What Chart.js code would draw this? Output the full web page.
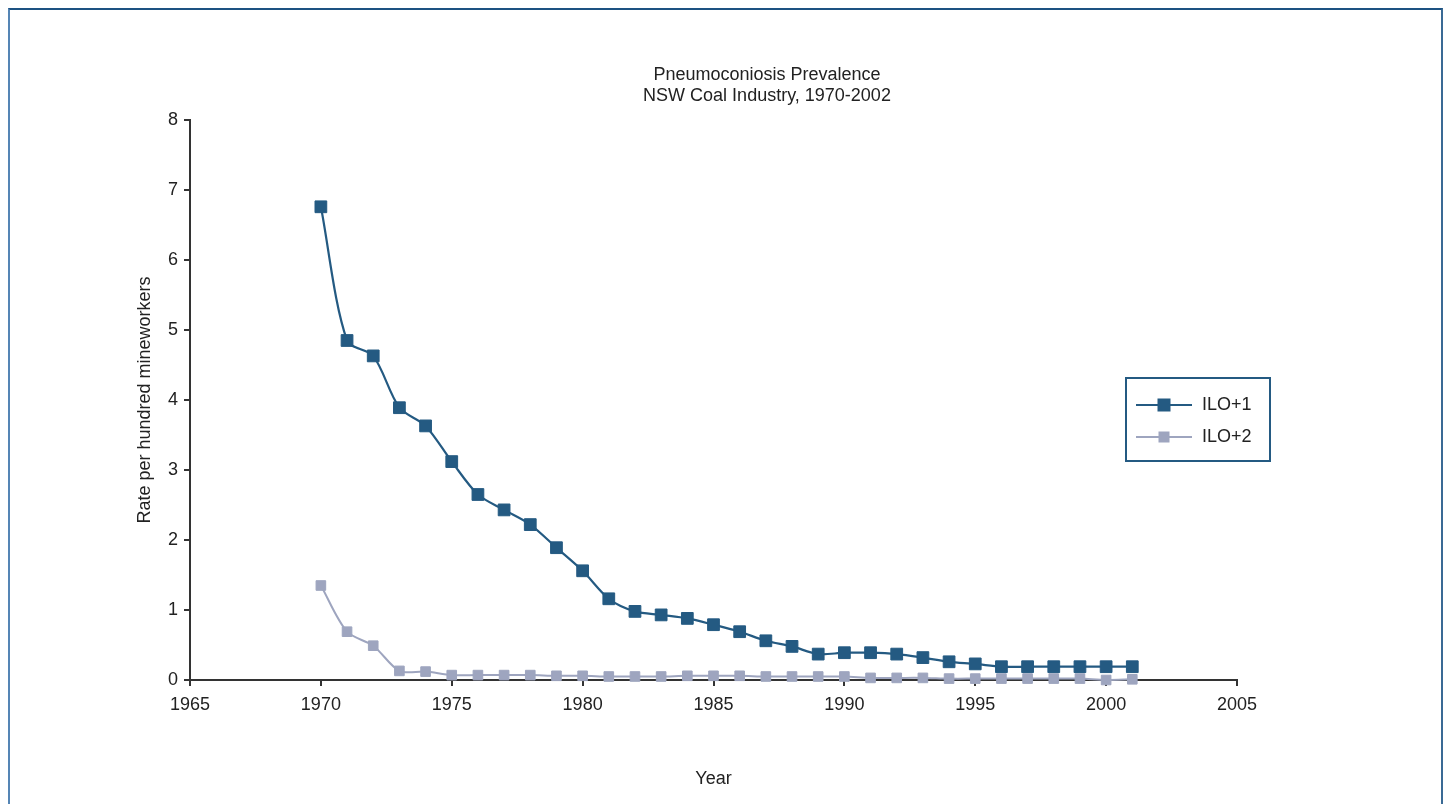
<!DOCTYPE html>
<html lang="en">
 <head>
  <meta charset="utf-8"/>
  <title>Pneumoconiosis Prevalence</title>
  <script src="https://cdn.jsdelivr.net/npm/chart.js"></script>
  <style>
    html, body {
      margin: 0;
      padding: 0;
      background: #fff;
    }
    .frame {
      position: absolute;
      left: 8px;
      top: 8px;
      width: 1431px;
      height: 830px;
      border: 2px solid #3a6a95;
      border-top-color: #1d5282;
      border-left-color: #5585b5;
    }
    .wrap {
      position: absolute;
      left: 0;
      top: 0;
      width: 1450px;
      height: 804px;
    }
  </style>
 </head>
 <body>
  <div class="frame"></div>
  <div class="wrap">
   <canvas id="grafik" width="1450" height="804"></canvas>
  </div>
  <script>
    const years = [1970, 1971, 1972, 1973, 1974, 1975, 1976, 1977, 1978, 1979,
      1980, 1981, 1982, 1983, 1984, 1985, 1986, 1987, 1988, 1989,
      1990, 1991, 1992, 1993, 1994, 1995, 1996, 1997, 1998, 1999, 2000, 2001];
    const ilo1 = [6.76, 4.85, 4.63, 3.89, 3.63, 3.12, 2.65, 2.43, 2.22, 1.89,
      1.56, 1.16, 0.98, 0.93, 0.88, 0.79, 0.69, 0.56, 0.48, 0.37,
      0.39, 0.39, 0.37, 0.32, 0.26, 0.23, 0.19, 0.19, 0.19, 0.19, 0.19, 0.19];
    const ilo2 = [1.35, 0.69, 0.49, 0.13, 0.12, 0.07, 0.07, 0.07, 0.07, 0.06,
      0.06, 0.05, 0.05, 0.05, 0.06, 0.06, 0.06, 0.05, 0.05, 0.05,
      0.05, 0.03, 0.03, 0.03, 0.02, 0.02, 0.02, 0.02, 0.02, 0.02, 0.0, 0.01];
    const titleLines = ["Pneumoconiosis Prevalence", "NSW Coal Industry, 1970-2002"];
    const seriesNames = ["ILO+1", "ILO+2"];

    const FONT = "'Liberation Sans', Arial, sans-serif";
    const dark = "#245a82";
    const light = "#9ea5bf";

    // title + legend box drawn by hand, the chart's own ones can't sit there
    const extras = {
      id: "extras",
      afterDraw(chart) {
        const ctx = chart.ctx;
        ctx.save();
        ctx.fillStyle = "#222";
        ctx.font = "18px " + FONT;
        ctx.textAlign = "center";
        ctx.textBaseline = "middle";
        ctx.fillText(titleLines[0], 767, 75);
        ctx.fillText(titleLines[1], 767, 96);

        // legend
        ctx.strokeStyle = dark;
        ctx.lineWidth = 2;
        ctx.strokeRect(1126, 378, 144, 83);
        ctx.textAlign = "left";
        chart.data.datasets.forEach((ds, i) => {
          const y = 405 + i * 32;
          ctx.strokeStyle = ds.borderColor;
          ctx.lineWidth = 2;
          ctx.beginPath();
          ctx.moveTo(1136, y);
          ctx.lineTo(1192, y);
          ctx.stroke();
          const s = i === 0 ? 13 : 11;
          ctx.fillStyle = ds.pointBackgroundColor;
          ctx.fillRect(1164 - s / 2, y - s / 2, s, s);
          ctx.fillStyle = "#222";
          ctx.fillText(seriesNames[i], 1202, y);
        });
        ctx.restore();
      }
    };

    new Chart(document.getElementById("grafik"), {
      type: "line",
      data: {
        datasets: [
          {
            label: seriesNames[0],
            data: years.map((yr, i) => ({ x: yr, y: ilo1[i] })),
            borderColor: dark,
            borderWidth: 2.2,
            pointStyle: "rect",
            pointRadius: 8.3,
            pointBorderWidth: 1,
            pointBackgroundColor: dark,
            pointBorderColor: dark,
            tension: 0.3,
            clip: false
          },
          {
            label: seriesNames[1],
            data: years.map((yr, i) => ({ x: yr, y: ilo2[i] })),
            borderColor: light,
            borderWidth: 2,
            pointStyle: "rect",
            pointRadius: 6.8,
            pointBorderWidth: 1,
            pointBackgroundColor: light,
            pointBorderColor: light,
            tension: 0.3,
            clip: false
          }
        ]
      },
      options: {
        responsive: false,
        animation: false,
        layout: { padding: { left: 120, top: 120, right: 213, bottom: 0 } },
        plugins: {
          legend: { display: false },
          title: { display: false },
          tooltip: { enabled: false }
        },
        scales: {
          x: {
            type: "linear",
            min: 1965,
            max: 2005,
            afterFit: s => { s.height = 124; },
            ticks: { stepSize: 5, color: "#222", font: { size: 18, family: FONT }, padding: 8, callback: v => String(v) },
            grid: { drawOnChartArea: false, drawTicks: true, tickLength: 6, color: "#333", lineWidth: 2 },
            border: { display: true, color: "#333", width: 2 },
            title: { display: true, text: "Year", color: "#222", font: { size: 18, family: FONT }, padding: { top: 14, bottom: 14 } }
          },
          y: {
            min: 0,
            max: 8,
            afterFit: s => { s.width = 70; },
            ticks: { stepSize: 1, color: "#222", font: { size: 18, family: FONT }, padding: 6 },
            grid: { drawOnChartArea: false, drawTicks: true, tickLength: 6, color: "#333", lineWidth: 2 },
            border: { display: true, color: "#333", width: 2 },
            title: { display: true, text: "Rate per hundred mineworkers", color: "#222", font: { size: 18, family: FONT }, padding: { top: 14, bottom: 14 } }
          }
        }
      },
      plugins: [extras]
    });
  </script>
 </body>
</html>
